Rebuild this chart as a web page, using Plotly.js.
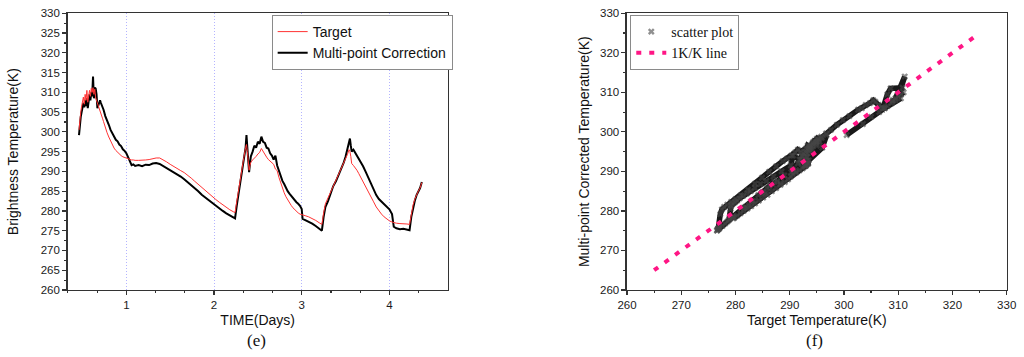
<!DOCTYPE html>
<html>
<head>
<meta charset="utf-8">
<script src="https://cdn.plot.ly/plotly-3.0.1.min.js"></script>
<style>
html,body{margin:0;padding:0;background:#fff;}
#chart{width:1024px;height:357px;}
</style>
</head>
<body>
<div id="chart"></div>
<script>
// ---- Data ----
const timeDays = [
0.46,0.47,0.48,0.49,0.50,0.51,0.52,0.53,0.54,0.55,0.56,0.57,0.58,0.59,0.60,0.61,0.62,0.63,0.64,0.65,
0.66,0.67,0.68,0.69,0.70,0.71,0.72,0.73,0.74,0.76,0.78,0.80,0.82,0.84,0.86,0.88,0.90,0.92,0.94,0.96,
0.98,1.00,1.02,1.04,1.06,1.08,1.10,1.14,1.18,1.22,1.26,1.30,1.34,1.38,1.42,1.46,1.50,1.54,1.58,1.62,
1.66,1.70,1.74,1.78,1.82,1.86,1.90,1.94,1.98,2.02,2.06,2.10,2.14,2.18,2.22,2.24,2.26,2.28,2.30,2.32,
2.34,2.36,2.37,2.38,2.39,2.40,2.41,2.42,2.44,2.46,2.48,2.50,2.52,2.54,2.56,2.58,2.60,2.62,2.64,2.66,
2.68,2.70,2.72,2.74,2.76,2.78,2.80,2.82,2.84,2.86,2.88,2.90,2.92,2.94,2.96,2.98,3.00,3.01,3.04,3.08,
3.12,3.16,3.20,3.23,3.25,3.27,3.30,3.33,3.36,3.39,3.42,3.45,3.48,3.50,3.52,3.54,3.55,3.56,3.57,3.59,
3.61,3.63,3.65,3.67,3.70,3.73,3.76,3.79,3.82,3.85,3.88,3.91,3.94,3.97,4.00,4.03,4.05,4.08,4.12,4.16,
4.20,4.23,4.25,4.27,4.29,4.31,4.33,4.35,4.37
];
const targetTemp = [
300.5,303.5,305.0,306.5,307.5,308.8,307.0,309.5,308.0,310.5,307.5,309.0,310.5,309.0,311.0,310.0,311.2,309.5,310.8,308.6,
308.0,307.2,306.4,305.8,305.4,304.8,304.0,303.3,302.6,301.0,299.8,298.7,297.6,296.7,295.9,295.3,294.8,294.3,294.0,293.7,
293.5,293.3,293.1,293.0,292.9,292.9,292.8,292.8,292.8,292.9,293.0,293.2,293.4,293.4,293.0,292.4,291.8,291.2,290.6,290.2,
289.7,289.1,288.3,287.5,286.7,285.9,285.1,284.3,283.6,282.9,282.2,281.5,280.9,280.3,279.8,279.6,282.5,285.5,288.3,291.0,
293.5,296.0,296.8,295.0,292.0,290.3,291.5,292.3,292.9,293.3,293.8,294.4,294.8,295.8,295.0,294.2,293.6,293.0,292.6,292.3,
291.8,290.6,290.2,288.5,287.0,285.7,284.6,283.6,282.8,282.1,281.4,280.8,280.3,279.9,279.5,279.2,279.1,279.0,278.8,278.5,
278.1,277.6,277.0,276.6,279.5,281.8,283.3,284.8,286.3,287.7,289.0,290.6,292.2,293.2,294.2,295.5,295.0,293.8,292.0,291.5,
291.0,290.3,289.5,288.7,287.5,286.2,284.9,283.6,282.3,281.0,280.0,279.2,278.5,277.9,277.5,277.2,277.0,276.9,276.8,276.8,
276.7,276.6,279.5,281.5,283.0,284.2,285.0,285.8,287.2
];
const correctedTemp = [
299.2,302.0,303.8,305.0,306.0,307.3,306.2,308.0,306.5,308.5,306.0,307.8,309.5,308.0,310.0,309.0,314.0,308.5,311.2,311.0,
309.5,306.0,306.8,307.6,308.0,307.3,306.8,306.0,305.6,304.0,303.0,301.8,300.5,299.6,298.5,298.0,297.6,296.8,296.4,295.6,
295.2,294.6,293.6,292.6,291.6,291.8,291.4,291.6,291.3,291.7,291.6,292.0,292.1,291.9,291.4,290.8,290.3,289.7,289.2,288.7,
288.0,287.3,286.6,285.8,285.0,284.1,283.4,282.6,281.9,281.2,280.6,280.0,279.4,278.8,278.3,278.1,281.5,284.5,287.0,290.0,
292.8,296.0,299.2,296.5,293.0,289.8,292.0,293.8,295.0,296.5,296.0,297.5,297.0,298.8,297.5,297.2,296.0,295.8,294.6,294.0,
293.0,294.0,291.5,290.0,288.7,287.6,286.8,285.8,285.0,284.4,283.8,283.2,282.6,282.2,281.8,281.3,280.5,278.0,277.7,277.3,
276.8,276.2,275.5,275.0,278.5,281.0,282.5,284.5,286.3,287.5,289.0,290.5,292.3,293.7,295.5,297.5,298.3,296.5,295.0,295.5,
294.8,294.0,293.2,292.6,291.3,289.9,288.4,286.9,285.4,284.0,283.0,282.3,281.6,281.0,280.4,279.2,276.0,275.6,275.4,275.5,
275.3,275.1,278.5,280.8,282.6,284.0,284.8,285.8,287.3
];
const lineX = [265, 324];
const lineY = [265, 324];

const seriesNames = ["Target", "Multi-point Correction"];
const scatterNames = ["scatter plot", "1K/K line"];

// ---- Layout helpers ----
const sans = "Liberation Sans, Arial, sans-serif";
const serif = "Liberation Serif, Times New Roman, serif";
const axCol = "#333333";
const tickFont = {family: sans, size: 11.5, color: "#1a1a1a"};
const titleFont = {family: sans, size: 14, color: "#111"};

function mainAxis(opts) {
  return Object.assign({
    showline: true, linecolor: axCol, linewidth: 1.5, mirror: true,
    ticks: "outside", ticklen: 4, tickwidth: 1.2, tickcolor: axCol,
    showgrid: false, zeroline: false, tickfont: tickFont,
    fixedrange: true
  }, opts);
}
function overlayAxis(opts) {
  return Object.assign({
    showline: false, ticks: "inside", ticklen: 4, tickwidth: 1.2, tickcolor: axCol,
    showticklabels: false, showgrid: false, zeroline: false, fixedrange: true
  }, opts);
}

const xr1 = [0.331, 4.665];
const yr1 = [260, 330];
const xr2 = [260, 330];
const yr2 = [260, 330];

const traces = [
  {x: timeDays, y: correctedTemp, type: "scatter", mode: "lines", name: seriesNames[1],
   line: {color: "#000000", width: 2}, xaxis: "x", yaxis: "y", legend: "legend", legendrank: 2},
  {x: timeDays, y: targetTemp, type: "scatter", mode: "lines", name: seriesNames[0],
   line: {color: "#ff3333", width: 1}, xaxis: "x", yaxis: "y", legend: "legend", legendrank: 1},
  {x: targetTemp, y: correctedTemp, type: "scatter", mode: "lines", showlegend: false,
   line: {color: "rgba(0,0,0,0.9)", width: 5.5}, xaxis: "x2", yaxis: "y2", hoverinfo: "skip"},
  {x: targetTemp, y: correctedTemp, type: "scatter", mode: "markers", name: scatterNames[0],
   marker: {symbol: "x", size: 6, color: "rgba(70,70,70,0.6)"}, xaxis: "x2", yaxis: "y2", legend: "legend2"},
  {x: lineX, y: lineY, type: "scatter", mode: "lines", name: scatterNames[1],
   line: {color: "#ff1685", width: 4, dash: "5px,8px"}, xaxis: "x2", yaxis: "y2", legend: "legend2"}
];

const layout = {
  width: 1024, height: 357,
  margin: {l: 0, r: 0, t: 0, b: 0},
  paper_bgcolor: "#ffffff", plot_bgcolor: "#ffffff",
  showlegend: true,
  xaxis: mainAxis({domain: [0.0661, 0.4372], anchor: "y", range: xr1, tick0: 0, dtick: 1,
    showgrid: true, gridcolor: "#b4b4ff", griddash: "1px,2px", gridwidth: 1,
    minor: {dtick: 1/3, tick0: 0, ticks: "outside", ticklen: 2, tickcolor: axCol, showgrid: false},
    title: {text: "TIME(Days)", font: titleFont, standoff: 5}}),
  yaxis: mainAxis({domain: [0.1877, 0.9627], anchor: "x", range: yr1, tick0: 0, dtick: 5,
    minor: {dtick: 2.5, ticks: "outside", ticklen: 2, tickcolor: axCol},
    title: {text: "Brightness Temperature(K)", font: titleFont, standoff: 19}}),
  xaxis3: overlayAxis({overlaying: "x", side: "top", anchor: "y", range: xr1, tick0: 0, dtick: 1,
    minor: {dtick: 1/3, tick0: 0, ticks: "inside", ticklen: 2, tickcolor: axCol}}),
  yaxis3: overlayAxis({overlaying: "y", side: "right", anchor: "x", range: yr1, tick0: 0, dtick: 5,
    minor: {dtick: 2.5, ticks: "inside", ticklen: 2, tickcolor: axCol}}),
  xaxis2: mainAxis({domain: [0.6123, 0.9831], anchor: "y2", range: xr2, tick0: 0, dtick: 10,
    minor: {dtick: 5, ticks: "outside", ticklen: 2, tickcolor: axCol},
    title: {text: "Target Temperature(K)", font: titleFont, standoff: 5}}),
  yaxis2: mainAxis({domain: [0.1877, 0.9627], anchor: "x2", range: yr2, tick0: 0, dtick: 10,
    minor: {dtick: 5, ticks: "outside", ticklen: 2, tickcolor: axCol},
    title: {text: "Multi-point Corrected Temperature(K)", font: titleFont, standoff: 7}}),
  xaxis4: overlayAxis({overlaying: "x2", side: "top", anchor: "y2", range: xr2, tick0: 0, dtick: 10,
    minor: {dtick: 5, ticks: "inside", ticklen: 2, tickcolor: axCol}}),
  yaxis4: overlayAxis({overlaying: "y2", side: "right", anchor: "x2", range: yr2, tick0: 0, dtick: 10,
    minor: {dtick: 5, ticks: "inside", ticklen: 2, tickcolor: axCol}}),
  legend: {x: 0.2653, y: 0.958, xanchor: "left", yanchor: "top", bgcolor: "#ffffff",
    bordercolor: "#8a8a8a", borderwidth: 1, itemwidth: 30,
    font: {family: sans, size: 14, color: "#111"}, tracegroupgap: 0},
  legend2: {x: 0.6155, y: 0.958, xanchor: "left", yanchor: "top", bgcolor: "#ffffff",
    bordercolor: "#8a8a8a", borderwidth: 1, itemwidth: 30,
    font: {family: serif, size: 14, color: "#111"}, tracegroupgap: 0},
  annotations: [
    {text: "(e)", x: 256/1024, y: (357-340)/357, xref: "paper", yref: "paper", showarrow: false,
     xanchor: "center", yanchor: "middle", font: {family: serif, size: 17, color: "#111"}},
    {text: "(f)", x: 814/1024, y: (357-340)/357, xref: "paper", yref: "paper", showarrow: false,
     xanchor: "center", yanchor: "middle", font: {family: serif, size: 17, color: "#111"}}
  ]
};

Plotly.newPlot("chart", traces, layout, {staticPlot: true, displayModeBar: false});
</script>
</body>
</html>
